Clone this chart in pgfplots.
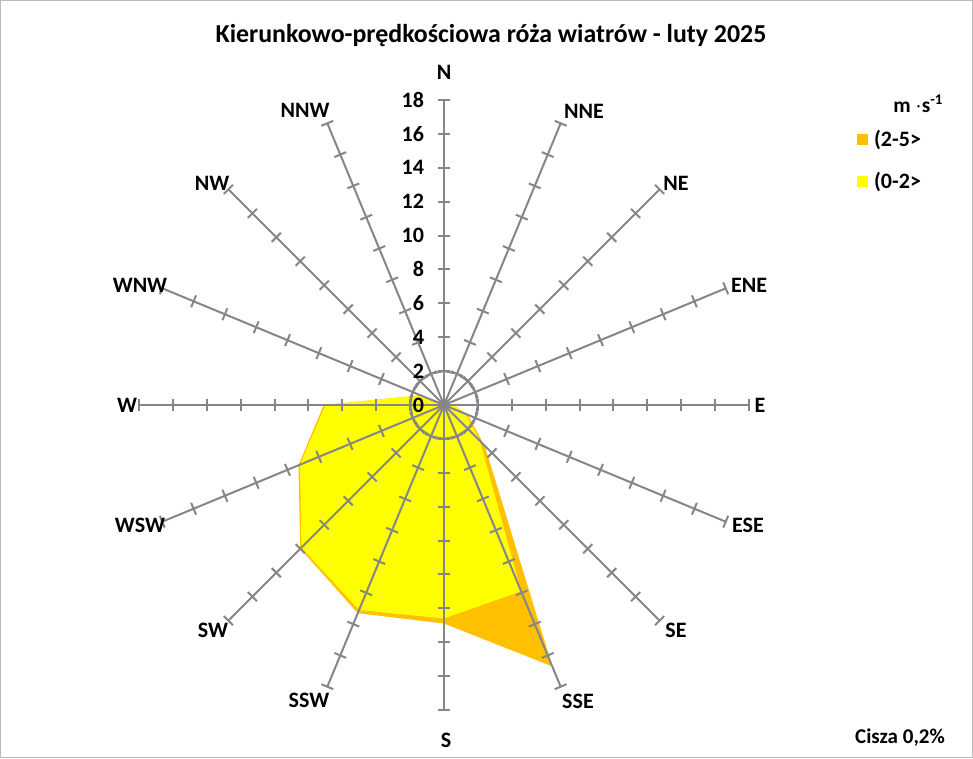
\documentclass[border=0pt]{standalone}
\usepackage{pgfplots}
\pgfplotsset{compat=1.18}
\usepackage{fontspec}
\setmainfont{Carlito}
\definecolor{gridgray}{RGB}{134,134,134}
\definecolor{orangeA}{RGB}{255,192,0}
\definecolor{yellowA}{RGB}{255,255,0}
\pgfplotstableread{
ang  r
90    0.1
67.5  0.1
45    0.1
22.5  0.2
0     0.6
-22.5 1.5
-45   3.4
-67.5 16.7
-90   12.9
-112.5 13.3
-135  12.0
-157.5 9.3
180   7.1
157.5 1.5
135   0.2
112.5 0.1
}\orangetab
\pgfplotstableread{
ang  r
90    0.1
67.5  0.1
45    0.1
22.5  0.2
0     0.6
-22.5 1.4
-45   3.0
-67.5 11.9
-90   12.6
-112.5 13.1
-135  11.9
-157.5 9.2
180   7.0
157.5 1.5
135   0.2
112.5 0.1
}\yellowtab
\begin{document}
\begin{tikzpicture}[x=0.75pt,y=0.75pt]
\path (0,0) rectangle (973,758);
\draw[gray!55,line width=0.8pt] (0.6,0.6) rectangle (972.4,757.4);
\begin{axis}[at={(333pt,264.75pt)}, anchor=origin,
  x=12.705pt, y=12.705pt,
  xmin=-18, xmax=18, ymin=-18, ymax=18,
  hide axis, clip=false,
  legend style={at={(axis description cs:1.176,0.956)}, anchor=north west,
    draw=none, fill=none, font=\bfseries\fontsize{16.5}{19}\selectfont,
    row sep=12.5pt, inner sep=0pt, nodes={inner sep=2.5pt}},
  legend cell align=left,
  legend image code/.code={\fill[#1] (0pt,-4.35pt) rectangle (8.7pt,4.35pt);}]
\addplot[fill=orangeA, draw=none, data cs=polar] table[x=ang,y=r] {\orangetab} -- cycle;
\addlegendentry{\hspace{2pt}(2-5>}
\addplot[fill=yellowA, draw=none, data cs=polar] table[x=ang,y=r] {\yellowtab} -- cycle;
\addlegendentry{\hspace{2pt}(0-2>}
\end{axis}
% grid
\begin{scope}[shift={(444,353)}, x=12.705pt, y=12.705pt, gridgray, line width=1.5pt]
\foreach \a in {0,22.5,...,337.5} {
  \draw (0,0) -- (\a:18);
  \foreach \k in {2,4,...,18} {\draw[rotate=\a] (\k,-0.38) -- (\k,0.38);}
}
\draw (0:2) \foreach \a in {22.5,45,...,337.5} {-- (\a:2)} -- cycle;
\foreach \k in {0,2,...,18} {
  \node[anchor=east, black, font=\bfseries\fontsize{16.5}{18}\selectfont, inner sep=0pt] at (-1.12,\k) {\k};
}
\end{scope}
% direction labels
\begin{scope}[font=\bfseries\fontsize{16.5}{18}\selectfont]
\node at (444,758-72) {N};
\node at (584,758-111) {NNE};
\node at (676,758-183) {NE};
\node at (749,758-285) {ENE};
\node at (760,758-405) {E};
\node at (748,758-525) {ESE};
\node at (676,758-630) {SE};
\node at (578,758-701) {SSE};
\node at (446,758-740) {S};
\node at (309,758-700) {SSW};
\node at (213,758-630) {SW};
\node at (140,758-525) {WSW};
\node at (127,758-405) {W};
\node at (140,758-285) {WNW};
\node at (212,758-183) {NW};
\node at (305,758-110) {NNW};
\end{scope}
\node[font=\bfseries\fontsize{19.4}{22}\selectfont] at (491,758-36) {Kierunkowo-prędkościowa róża wiatrów - luty 2025};
\node[font=\bfseries\fontsize{16}{18}\selectfont, anchor=base west, inner sep=0pt] at (893,758-113) {m $\cdot$s\textsuperscript{-1}};
\node[font=\bfseries\fontsize{15.75}{18}\selectfont] at (900,758-738) {Cisza 0,2\%};
\end{tikzpicture}
\end{document}
